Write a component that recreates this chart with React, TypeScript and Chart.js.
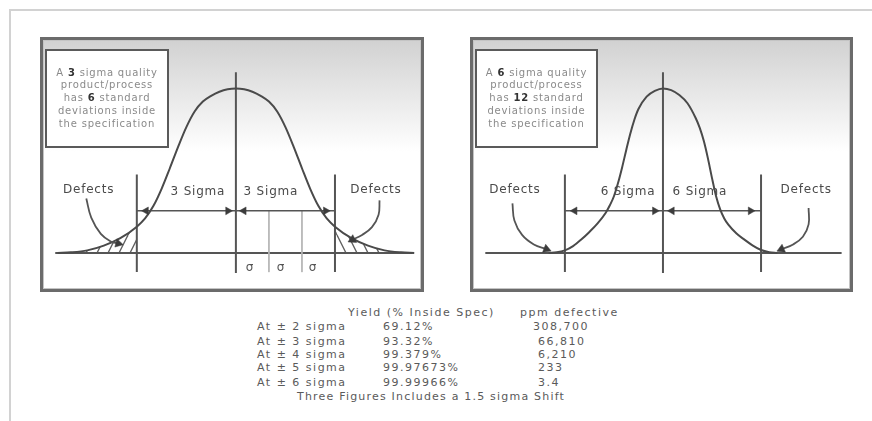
import React, { useEffect, useRef } from 'react';
import { Chart, registerables } from 'chart.js';

Chart.register(...registerables);

const FONT = '"DejaVu Sans", Verdana, sans-serif';

// ---------- Left panel: 3 sigma process (x in sigma units, y = relative height) ----------
const leftCurveX = [-5.4, -5, -4.5, -4, -3.5, -3, -2.75, -2.5, -2.25, -2, -1.75, -1.5, -1.25, -1, -0.75, -0.5, -0.25, 0, 0.25, 0.5, 0.75, 1, 1.25, 1.5, 1.75, 2, 2.25, 2.5, 2.75, 3, 3.5, 4, 4.5, 5, 5.4];
const leftCurveY = [0, 0.004, 0.016, 0.045, 0.09, 0.16, 0.21, 0.285, 0.39, 0.515, 0.645, 0.765, 0.86, 0.92, 0.955, 0.98, 0.995, 1, 0.995, 0.98, 0.955, 0.92, 0.86, 0.765, 0.645, 0.515, 0.39, 0.285, 0.21, 0.16, 0.09, 0.045, 0.016, 0.004, 0];
const leftSpecLimits = [-3, 3];
const leftSigmaTicks = [1, 2];
const leftSigmaSymbolsX = [0.41, 1.35, 2.32];
const leftArrowHeadsX = [-2.72, -0.24, 0.24, 2.72];
const leftArcLeftX = [-4.53, -4.38, -4.09, -3.79, -3.56];
const leftArcLeftY = [0.331, 0.215, 0.116, 0.07, 0.058];
const leftArcRightX = [4.35, 4.32, 4.12, 3.82, 3.53];
const leftArcRightY = [0.32, 0.233, 0.157, 0.11, 0.081];
const leftBoxLines = [['A ', '3', ' sigma quality'], ['product/process'], ['has ', '6', ' standard'], ['deviations inside'], ['the specification']];
const leftSpanLabel = '3 Sigma';

// ---------- Right panel: 6 sigma process ----------
const rightCurveX = [-7, -6.5, -6, -5.5, -5, -4.5, -4, -3.5, -3.25, -3, -2.75, -2.5, -2.25, -2, -1.75, -1.5, -1, -0.5, 0, 0.5, 1, 1.5, 2, 2.25, 2.5, 2.75, 3, 3.25, 3.5, 3.75, 4, 4.5, 5, 5.5, 6, 6.5, 7];
const rightCurveY = [0, 0.004, 0.016, 0.042, 0.082, 0.128, 0.18, 0.245, 0.29, 0.345, 0.425, 0.52, 0.625, 0.725, 0.81, 0.875, 0.95, 0.985, 1, 0.99, 0.96, 0.91, 0.82, 0.76, 0.68, 0.575, 0.455, 0.345, 0.265, 0.21, 0.172, 0.118, 0.08, 0.045, 0.018, 0.005, 0];
const rightSpecLimits = [-6, 6];
const rightArrowHeadsX = [-5.4, -0.5, 0.55, 5.36];
const rightArcLeftX = [-9.21, -9.09, -8.62, -7.9, -7.13];
const rightArcLeftY = [0.302, 0.198, 0.11, 0.052, 0.023];
const rightArcRightX = [8.91, 8.91, 8.56, 7.96, 7.25];
const rightArcRightY = [0.273, 0.174, 0.099, 0.052, 0.023];
const rightBoxLines = [['A ', '6', ' sigma quality'], ['product/process'], ['has ', '12', ' standard'], ['deviations inside'], ['the specification']];
const rightSpanLabel = '6 Sigma';

// ---------- Table ----------
const sigmaLevels = [2, 3, 4, 5, 6];
const yieldPct = ['69.12%', '93.32%', '99.379%', '99.97673%', '99.99966%'];
const ppmDefective = ['308,700', '66,810', '6,210', '233', '3.4'];
const tableHeaderYield = 'Yield (% Inside Spec)';
const tableHeaderPpm = 'ppm defective';
const tableFooter = 'Three Figures Includes a 1.5 sigma Shift';

type PanelSpec = {
  curveX: number[];
  curveY: number[];
  spec: number[];
  xMin: number;
  xMax: number;
  baseX: number[];
  headsX: number[];
  arcs: { x: number[]; y: number[]; rot: number }[];
  sigmaTicks: number[];
  sigmaSymbolsX: number[];
  defectsPos: number[][];
  spanLabel: string;
  spanPos: number[][];
  boxLines: string[][];
  boxW: number;
  hatch: boolean;
};

const Y_MIN = -0.2035;
const Y_MAX = 1.279;
const ARROW_Y = 0.256;
const CENTER_LINE_Y = [-0.122, 1.099];
const SPEC_LINE_Y = [-0.116, 0.477];

const leftPanel: PanelSpec = {
  curveX: leftCurveX,
  curveY: leftCurveY,
  spec: leftSpecLimits,
  xMin: -5.765,
  xMax: 5.529,
  baseX: [-5.47, 5.35],
  headsX: leftArrowHeadsX,
  arcs: [
    { x: leftArcLeftX, y: leftArcLeftY, rot: 104 },
    { x: leftArcRightX, y: leftArcRightY, rot: 243 },
  ],
  sigmaTicks: leftSigmaTicks,
  sigmaSymbolsX: leftSigmaSymbolsX,
  defectsPos: [[-4.46, 0.384], [4.24, 0.384]],
  spanLabel: leftSpanLabel,
  spanPos: [[-1.15, 0.372], [1.06, 0.372]],
  boxLines: leftBoxLines,
  boxW: 122,
  hatch: true,
};

const rightPanel: PanelSpec = {
  curveX: rightCurveX,
  curveY: rightCurveY,
  spec: rightSpecLimits,
  xMin: -11.47,
  xMax: 11.29,
  baseX: [-10.87, 10.93],
  headsX: rightArrowHeadsX,
  arcs: [
    { x: rightArcLeftX, y: rightArcLeftY, rot: 111 },
    { x: rightArcRightX, y: rightArcRightY, rot: 247 },
  ],
  sigmaTicks: [],
  sigmaSymbolsX: [],
  defectsPos: [[-9.06, 0.384], [8.76, 0.384]],
  spanLabel: rightSpanLabel,
  spanPos: [[-2.14, 0.372], [2.26, 0.372]],
  boxLines: rightBoxLines,
  boxW: 121,
  hatch: false,
};

function makeHatch(dir: 'left' | 'right'): CanvasPattern | string {
  const w = 11;
  const h = 22;
  const c = document.createElement('canvas');
  c.width = w;
  c.height = h;
  const g = c.getContext('2d');
  if (!g) return '#ddd';
  g.fillStyle = '#ffffff';
  g.fillRect(0, 0, w, h);
  g.strokeStyle = '#606060';
  g.lineWidth = 1.3;
  for (const off of [-w, 0, w]) {
    g.beginPath();
    if (dir === 'right') {
      g.moveTo(off, 0);
      g.lineTo(off + w, h);
    } else {
      g.moveTo(off, h);
      g.lineTo(off + w, 0);
    }
    g.stroke();
  }
  const p = g.createPattern(c, 'repeat');
  return p || '#ddd';
}

function pts(xs: number[], ys: number[]) {
  return xs.map((x, i) => ({ x, y: ys[i] }));
}

function txt(ctx: CanvasRenderingContext2D, s: string, x: number, y: number, font: string, color: string, spacing = '0px') {
  ctx.save();
  ctx.font = font;
  ctx.fillStyle = color;
  ctx.textAlign = 'center';
  ctx.textBaseline = 'middle';
  (ctx as any).letterSpacing = spacing;
  ctx.fillText(s, x, y);
  ctx.restore();
}

function makeChart(canvas: HTMLCanvasElement, p: PanelSpec) {
  const lineCol = '#555555';
  const datasets: any[] = [];

  // arrow heads on the span arrow
  datasets.push({
    data: p.headsX.map((x) => ({ x, y: ARROW_Y })),
    showLine: false,
    pointStyle: 'triangle',
    pointRadius: 4.5,
    pointRotation: [270, 90, 270, 90],
    pointBackgroundColor: '#3c3c3c',
    pointBorderColor: '#3c3c3c',
    pointBorderWidth: 0.5,
  });

  // "Defects" curved arrows
  p.arcs.forEach((a) => {
    datasets.push({
      data: pts(a.x, a.y),
      borderColor: lineCol,
      borderWidth: 1.8,
      tension: 0.4,
      pointStyle: 'triangle',
      pointRadius: a.x.map((_, i) => (i === a.x.length - 1 ? 5 : 0)),
      pointRotation: a.rot,
      pointBackgroundColor: '#3c3c3c',
      pointBorderColor: '#3c3c3c',
      pointBorderWidth: 0.5,
    });
  });

  // distribution curve
  datasets.push({
    data: pts(p.curveX, p.curveY),
    borderColor: '#4a4a4a',
    borderWidth: 2,
    cubicInterpolationMode: 'monotone',
    pointRadius: 0,
  });

  // span arrow line
  datasets.push({
    data: [{ x: p.spec[0], y: ARROW_Y }, { x: p.spec[1], y: ARROW_Y }],
    borderColor: lineCol,
    borderWidth: 1.5,
    pointRadius: 0,
  });

  // center line
  datasets.push({
    data: [{ x: 0, y: CENTER_LINE_Y[0] }, { x: 0, y: CENTER_LINE_Y[1] }],
    borderColor: lineCol,
    borderWidth: 2,
    pointRadius: 0,
  });

  // spec limit lines
  p.spec.forEach((s) => {
    datasets.push({
      data: [{ x: s, y: SPEC_LINE_Y[0] }, { x: s, y: SPEC_LINE_Y[1] }],
      borderColor: lineCol,
      borderWidth: 2,
      pointRadius: 0,
    });
  });

  // sigma sub-division lines
  p.sigmaTicks.forEach((s) => {
    datasets.push({
      data: [{ x: s, y: ARROW_Y }, { x: s, y: SPEC_LINE_Y[0] }],
      borderColor: '#b5b5b5',
      borderWidth: 1,
      pointRadius: 0,
    });
  });

  // baseline
  datasets.push({
    data: [{ x: p.baseX[0], y: 0 }, { x: p.baseX[1], y: 0 }],
    borderColor: lineCol,
    borderWidth: 2,
    pointRadius: 0,
  });

  // hatched defect tails
  if (p.hatch) {
    const lx = p.curveX.filter((x) => x <= p.spec[0]);
    const ly = p.curveY.filter((_, i) => p.curveX[i] <= p.spec[0]);
    const rx = p.curveX.filter((x) => x >= p.spec[1]);
    const ry = p.curveY.filter((_, i) => p.curveX[i] >= p.spec[1]);
    datasets.push({
      data: pts(lx, ly),
      borderWidth: 0,
      borderColor: 'rgba(0,0,0,0)',
      backgroundColor: makeHatch('left'),
      fill: 'origin',
      cubicInterpolationMode: 'monotone',
      pointRadius: 0,
    });
    datasets.push({
      data: pts(rx, ry),
      borderWidth: 0,
      borderColor: 'rgba(0,0,0,0)',
      backgroundColor: makeHatch('right'),
      fill: 'origin',
      cubicInterpolationMode: 'monotone',
      pointRadius: 0,
    });
  }

  const deco = {
    id: 'deco',
    beforeDraw(chart: any) {
      const ctx = chart.ctx as CanvasRenderingContext2D;
      const g = ctx.createLinearGradient(0, 0, 0, chart.height);
      g.addColorStop(0, '#d0d0d0');
      g.addColorStop(0.45, '#ffffff');
      ctx.save();
      ctx.fillStyle = g;
      ctx.fillRect(0, 0, chart.width, chart.height);
      ctx.restore();
    },
    afterDatasetsDraw(chart: any) {
      const ctx = chart.ctx as CanvasRenderingContext2D;
      const xs = chart.scales.x;
      const ys = chart.scales.y;
      const labelFont = `12px ${FONT}`;
      p.defectsPos.forEach(([x, y]) =>
        txt(ctx, 'Defects', xs.getPixelForValue(x), ys.getPixelForValue(y), labelFont, '#4a4a4a', '0.8px')
      );
      p.spanPos.forEach(([x, y]) =>
        txt(ctx, p.spanLabel, xs.getPixelForValue(x), ys.getPixelForValue(y), labelFont, '#4a4a4a', '0.8px')
      );
      p.sigmaSymbolsX.forEach((x) =>
        txt(ctx, 'σ', xs.getPixelForValue(x), ys.getPixelForValue(-0.093), `12px ${FONT}`, '#555555')
      );

      // explanatory text box
      const bx = 6;
      const by = 13;
      const bw = p.boxW;
      const bh = 97;
      ctx.save();
      ctx.fillStyle = '#ffffff';
      ctx.fillRect(bx, by, bw, bh);
      ctx.strokeStyle = '#5a5a5a';
      ctx.lineWidth = 2;
      ctx.strokeRect(bx, by, bw, bh);
      const normal = `10px ${FONT}`;
      const bold = `bold 10px ${FONT}`;
      (ctx as any).letterSpacing = '0.8px';
      ctx.textBaseline = 'middle';
      ctx.textAlign = 'left';
      p.boxLines.forEach((segs, li) => {
        let total = 0;
        const widths = segs.map((s, si) => {
          ctx.font = si % 2 === 1 ? bold : normal;
          const w = ctx.measureText(s).width;
          total += w;
          return w;
        });
        let x = bx + bw / 2 - total / 2;
        const y = by + 23 + li * 12.8;
        segs.forEach((s, si) => {
          ctx.font = si % 2 === 1 ? bold : normal;
          ctx.fillStyle = si % 2 === 1 ? '#333333' : '#8a8a8a';
          ctx.fillText(s, x, y);
          x += widths[si];
        });
      });
      ctx.restore();

      // panel frame
      ctx.save();
      ctx.strokeStyle = '#6b6b6b';
      ctx.lineWidth = 3;
      ctx.strokeRect(1.5, 1.5, chart.width - 3, chart.height - 3);
      ctx.strokeStyle = '#c4c4c4';
      ctx.lineWidth = 1;
      ctx.strokeRect(3.5, 3.5, chart.width - 7, chart.height - 7);
      ctx.restore();
    },
  };

  return new Chart(canvas, {
    type: 'line',
    data: { datasets },
    options: {
      animation: false,
      responsive: false,
      maintainAspectRatio: false,
      events: [],
      layout: { padding: 0 },
      plugins: { legend: { display: false }, tooltip: { enabled: false } },
      scales: {
        x: { type: 'linear', min: p.xMin, max: p.xMax, display: false },
        y: { type: 'linear', min: Y_MIN, max: Y_MAX, display: false },
      },
    } as any,
    plugins: [deco],
  });
}

function PanelChart({ spec, left, top, width, height }: { spec: PanelSpec; left: number; top: number; width: number; height: number }) {
  const ref = useRef<HTMLCanvasElement>(null);
  useEffect(() => {
    if (!ref.current) return;
    const chart = makeChart(ref.current, spec);
    return () => chart.destroy();
  }, [spec]);
  return <canvas ref={ref} width={width} height={height} style={{ position: 'absolute', left, top, width, height }} />;
}

const rowTops = [320, 335, 348, 361, 376];

export default function App() {
  const tStyle: React.CSSProperties = {
    position: 'absolute',
    fontFamily: FONT,
    fontSize: 11,
    lineHeight: '14px',
    letterSpacing: '1.5px',
    color: '#5a5a5a',
    whiteSpace: 'nowrap',
  };
  return (
    <div style={{ position: 'fixed', left: 0, top: 0, width: 872, height: 421, background: '#ffffff', overflow: 'hidden' }}>
      <div style={{ position: 'absolute', left: 9, top: 9, width: 880, height: 430, borderTop: '2px solid #d2d2d2', borderLeft: '2px solid #d2d2d2' }} />
      <PanelChart spec={leftPanel} left={40} top={37} width={384} height={255} />
      <PanelChart spec={rightPanel} left={470} top={37} width={383} height={255} />
      <div style={{ ...tStyle, left: 348, top: 306 }}>{tableHeaderYield}</div>
      <div style={{ ...tStyle, left: 520, top: 306 }}>{tableHeaderPpm}</div>
      {sigmaLevels.map((s, i) => (
        <React.Fragment key={s}>
          <div style={{ ...tStyle, left: 257, top: rowTops[i] }}>{`At ± ${s} sigma`}</div>
          <div style={{ ...tStyle, left: 383, top: rowTops[i] }}>{yieldPct[i]}</div>
          <div style={{ ...tStyle, left: i === 0 ? 533 : 538, top: rowTops[i] }}>{ppmDefective[i]}</div>
        </React.Fragment>
      ))}
      <div style={{ ...tStyle, left: 297, top: 390, letterSpacing: '1.2px' }}>{tableFooter}</div>
    </div>
  );
}
